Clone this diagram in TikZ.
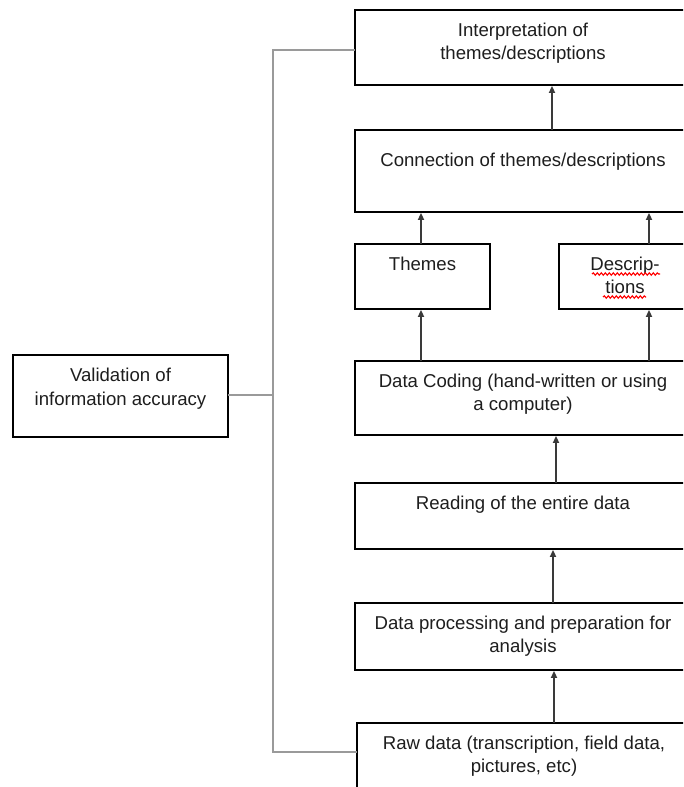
\documentclass[tikz,border=0pt]{standalone}
\usepackage{fontspec}
\setmainfont{Liberation Sans}
\usetikzlibrary{arrows.meta,decorations.pathmorphing}
\definecolor{linegray}{HTML}{9A9A9A}
\definecolor{arrowgray}{HTML}{3A3A3A}
\definecolor{txtcol}{HTML}{1E1E1E}
\newcommand\boxtxt[4]{\parbox[t][#2][t]{#1}{\vspace*{\dimexpr#3-20pt\relax}\centering\fontsize{18.6}{23.5}\selectfont\rule{0pt}{20pt}#4\par}}
\tikzset{
  box/.style={draw=black, line width=1.8pt, fill=white, inner sep=0pt, outer sep=0pt, anchor=north west, text=txtcol},
  arr/.style={draw=arrowgray, line width=1.7pt, -{Triangle[width=6pt,length=7pt]}, shorten >=0.9pt},
  feedback/.style={draw=linegray, line width=1.6pt},
  spell/.style={draw=red, line width=1.1pt, decorate, decoration={snake, amplitude=1.2pt, segment length=4pt}}
}
\begin{document}
\begin{tikzpicture}[x=1pt,y=-1pt]
\useasboundingbox (0,0) rectangle (683,787);
\clip (0,0) rectangle (683,787);
\fill[white] (0,0) rectangle (683,787);

\node[box] (interp) at (355,10) {\boxtxt{336pt}{75pt}{26pt}{Interpretation of\\themes/descriptions}};
\node[box] (conn) at (355,130) {\boxtxt{336pt}{82pt}{36.7pt}{Connection of themes/descriptions}};
\node[box] (themes) at (355,244) {\boxtxt{135pt}{65pt}{26pt}{Themes}};
\node[box] (desc) at (559,244) {\boxtxt{132pt}{65pt}{26pt}{Descrip-\\tions}};
\node[box] (coding) at (355,361) {\boxtxt{336pt}{74pt}{26pt}{Data Coding (hand-written or using\\a computer)}};
\node[box] (reading) at (355,483) {\boxtxt{336pt}{66pt}{26pt}{Reading of the entire data}};
\node[box] (proc) at (355,603) {\boxtxt{336pt}{67pt}{26pt}{Data processing and preparation for\\analysis}};
\node[box] (raw) at (357,723) {\boxtxt{334pt}{80pt}{26pt}{Raw data (transcription, field data,\\pictures, etc)}};
\node[box] (valid) at (13,355) {\boxtxt{215pt}{82pt}{26.7pt}{Validation of\\information accuracy}};

% spell-check underlines
\draw[spell] ([shift={(33,30)}]desc.north west) -- ([shift={(101,30)}]desc.north west);
\draw[spell] ([shift={(44,53)}]desc.north west) -- ([shift={(87,53)}]desc.north west);

% column coordinates
\coordinate (c421) at (421,0);
\coordinate (c649) at (649,0);
\coordinate (c552) at (552,0);
\coordinate (c556) at (556,0);
\coordinate (c553) at (553,0);
\coordinate (c554) at (554,0);

\draw[arr] (conn.north -| c552) -- (interp.south -| c552);
\draw[arr] (themes.north -| c421) -- (conn.south -| c421);
\draw[arr] (desc.north -| c649) -- (conn.south -| c649);
\draw[arr] (coding.north -| c421) -- (themes.south -| c421);
\draw[arr] (coding.north -| c649) -- (desc.south -| c649);
\draw[arr] (reading.north -| c556) -- (coding.south -| c556);
\draw[arr] (proc.north -| c553) -- (reading.south -| c553);
\draw[arr] (raw.north -| c554) -- (proc.south -| c554);

% validation connector
\coordinate (jt) at (273,50);
\coordinate (jm) at (273,395);
\coordinate (jb) at (273,752);
\draw[feedback] (interp.west |- jt) -- (jt) -- (jb) -- (raw.west |- jb);
\draw[feedback] (valid.east |- jm) -- (jm);
\end{tikzpicture}
\end{document}
